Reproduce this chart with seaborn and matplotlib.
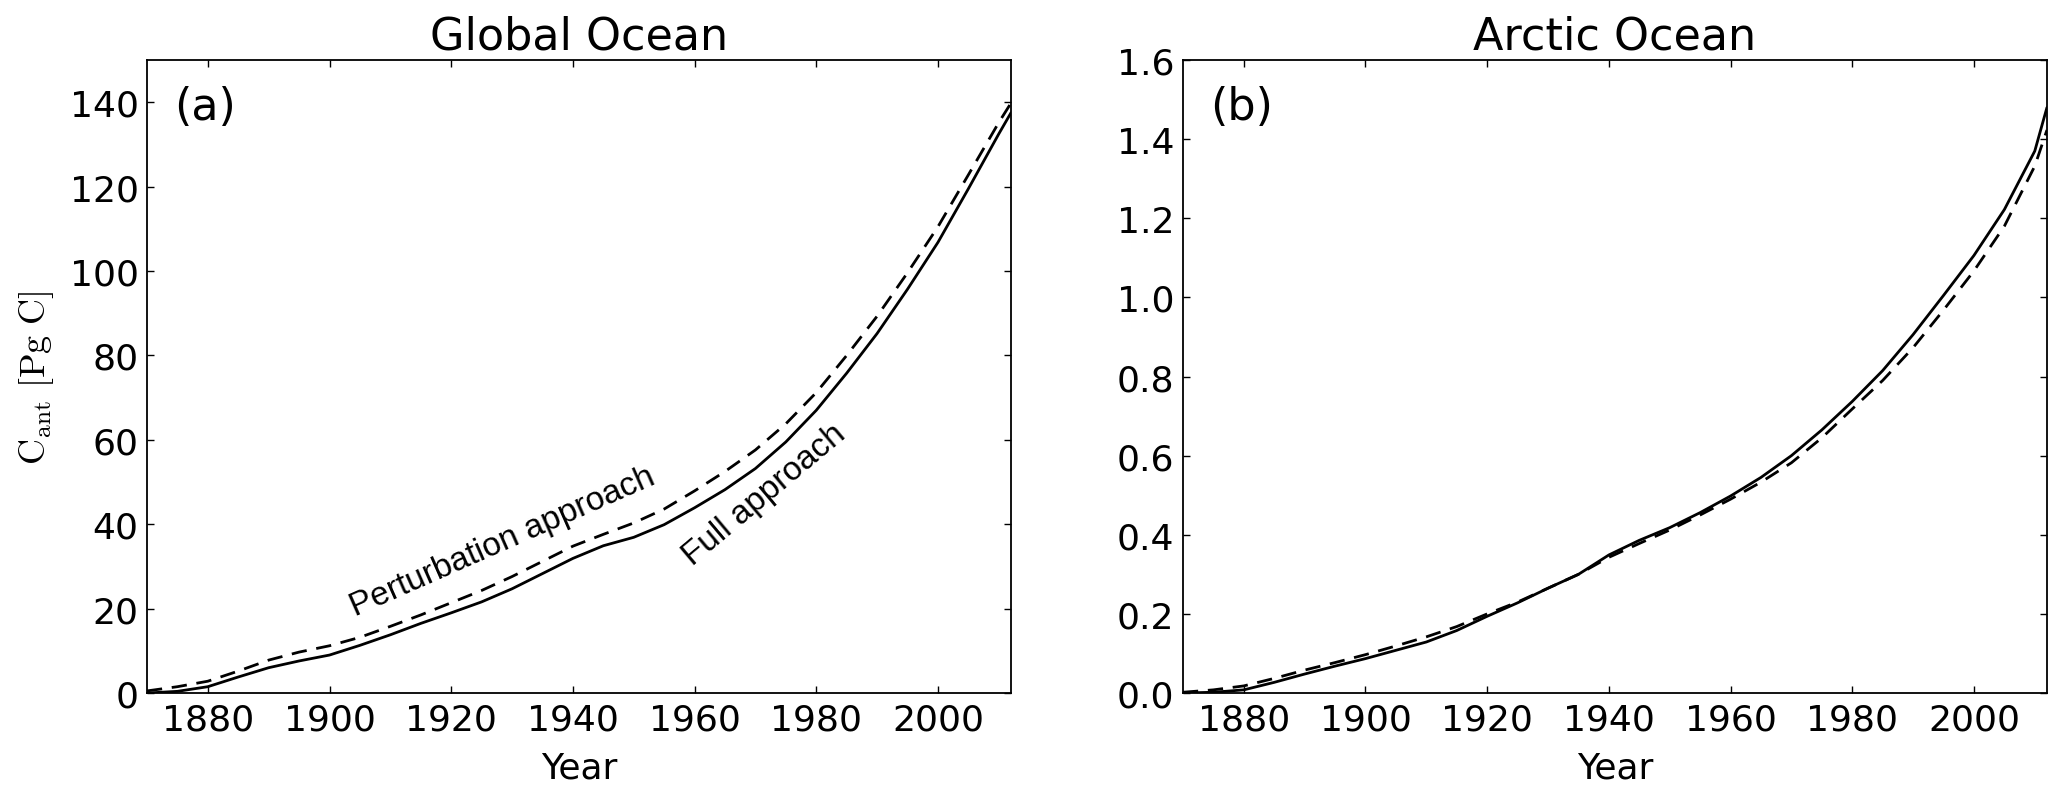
import numpy as np
import pandas as pd
import matplotlib
matplotlib.use("Agg")
import matplotlib.pyplot as plt
import seaborn as sns

# --- datos ---
years = [1870, 1875, 1880, 1885, 1890, 1895, 1900, 1905, 1910, 1915, 1920,
         1925, 1930, 1935, 1940, 1945, 1950, 1955, 1960, 1965, 1970, 1975,
         1980, 1985, 1990, 1995, 2000, 2005, 2010, 2012]

global_full = [0.0, 0.4, 1.5, 3.8, 6.0, 7.6, 9.0, 11.3, 13.8, 16.5, 19.0,
               21.6, 24.7, 28.3, 31.9, 34.9, 36.9, 39.9, 43.9, 48.2, 53.2, 59.5,
               67.0, 75.8, 85.2, 95.7, 106.8, 119.5, 132.5, 137.5]
global_pert = [0.5, 1.5, 2.8, 5.2, 7.8, 9.7, 11.2, 13.2, 15.8, 18.5, 21.4,
               24.3, 27.6, 31.2, 34.8, 37.6, 40.3, 43.6, 47.9, 52.5, 57.6, 63.8,
               71.2, 80.0, 89.3, 99.6, 110.5, 122.8, 135.2, 139.8]

arctic_full = [0.0, 0.002, 0.008, 0.027, 0.048, 0.068, 0.087, 0.108, 0.129, 0.158, 0.194,
               0.228, 0.265, 0.300, 0.349, 0.386, 0.418, 0.456, 0.498, 0.545, 0.600, 0.665,
               0.737, 0.815, 0.906, 1.005, 1.106, 1.222, 1.370, 1.48]
arctic_pert = [0.002, 0.008, 0.018, 0.037, 0.058, 0.077, 0.097, 0.119, 0.142, 0.168, 0.200,
               0.230, 0.265, 0.300, 0.343, 0.378, 0.412, 0.450, 0.490, 0.533, 0.582, 0.645,
               0.718, 0.790, 0.873, 0.968, 1.067, 1.180, 1.332, 1.423]

titles = ["Global Ocean", "Arctic Ocean"]
panel_labels = ["(a)", "(b)"]
x_ticks = [1880, 1900, 1920, 1940, 1960, 1980, 2000]

# --- estilo ---
sns.set_style("ticks")
plt.rcParams["font.family"] = ["DejaVu Sans"]
plt.rcParams["mathtext.fontset"] = "cm"
plt.rcParams.update({
    "xtick.direction": "in", "ytick.direction": "in",
    "xtick.top": True, "ytick.right": True,
    "xtick.major.size": 5, "ytick.major.size": 5,
    "xtick.major.width": 1.0, "ytick.major.width": 1.0,
    "axes.linewidth": 1.3, "axes.edgecolor": "black",
    "xtick.major.pad": 7, "ytick.major.pad": 6,
    "text.color": "black", "axes.labelcolor": "black",
    "xtick.color": "black", "ytick.color": "black",
})

fig = plt.figure(figsize=(20.67, 8.03), dpi=100)
ax1 = fig.add_axes([0.0711, 0.1357, 0.418, 0.7883])
ax2 = fig.add_axes([0.5723, 0.1357, 0.418, 0.7883])

dash = (0, (5.5, 3.5))
panels = [(ax1, global_full, global_pert), (ax2, arctic_full, arctic_pert)]
for i, (ax, full, pert) in enumerate(panels):
    sns.lineplot(x=years, y=full, ax=ax, color="black", linewidth=2)
    sns.lineplot(x=years, y=pert, ax=ax, color="black", linewidth=2, linestyle=dash)
    ax.set_xlim(1870, 2012)
    ax.set_xticks(x_ticks)
    ax.set_title(titles[i], fontsize=32, pad=8)
    ax.set_xlabel("Year", fontsize=26, labelpad=10)
    ax.tick_params(labelsize=26)
    ax.text(0.032, 0.926, panel_labels[i], transform=ax.transAxes,
            fontsize=32, ha="left", va="center")

ax1.set_ylim(0, 150)
ax1.set_yticks(np.arange(0, 141, 20))
ax1.set_ylabel(r"$\mathrm{C_{ant}\ [Pg\ C]}$", fontsize=26, labelpad=10)

ax2.set_ylim(0, 1.6)
ax2.set_yticks(np.arange(0, 1.61, 0.2))
ax2.yaxis.set_major_formatter(matplotlib.ticker.FormatStrFormatter("%.1f"))

# etiquetas de las curvas
ax1.text(1928.5, 36.0, "Perturbation approach", rotation=23.8, fontsize=24,
         family=["Liberation Sans", "DejaVu Sans"], ha="center", va="center")
ax1.text(1971.5, 47.0, "Full approach", rotation=40, fontsize=24,
         family=["Liberation Sans", "DejaVu Sans"], ha="center", va="center")

fig.savefig("out.png", dpi=100)
